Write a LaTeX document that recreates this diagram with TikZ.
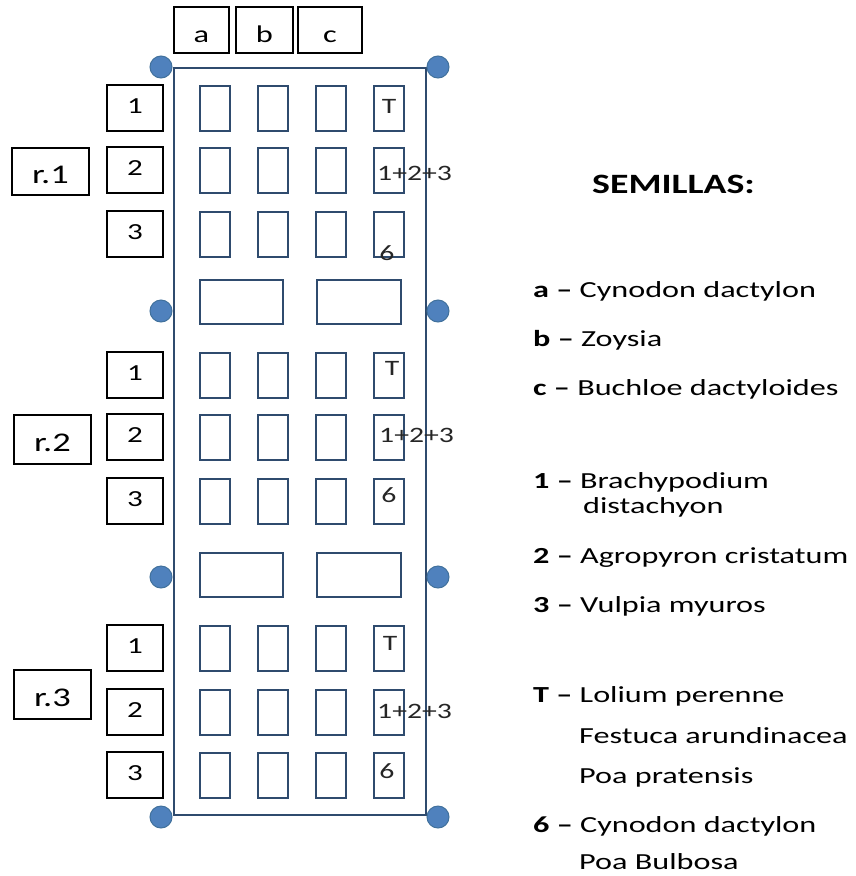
\documentclass[tikz,border=0pt]{standalone}
\usepackage{fontspec}
\setmainfont[FakeStretch=1.35]{Carlito}
\newfontfamily\legendfont[FakeStretch=1.4]{Carlito}
\definecolor{frame}{HTML}{2F4B6E}
\definecolor{pinfill}{HTML}{4F81BD}
\definecolor{pinline}{HTML}{41719C}

\begin{document}
\begin{tikzpicture}[x=1pt,y=-1pt,
  box/.style={draw=black,line width=1.8pt,inner sep=0pt,font=\fontsize{23}{27}\selectfont},
  cell/.style={draw=frame,line width=2pt},
  pin/.style={fill=pinfill,draw=pinline,line width=1pt},
  mark text/.style={anchor=base,inner sep=0pt,text=black!85,font=\fontsize{22}{26}\selectfont},
  legend/.style={anchor=base west,inner sep=0pt,font=\legendfont\fontsize{23}{27}\selectfont}]

\useasboundingbox (0,0) rectangle (855,876);

\draw[frame,line width=2pt] (174,68) rectangle (426,815);

\foreach \y in {67,311,577,817} {
  \filldraw[pin] (161,\y) circle[radius=11];
  \filldraw[pin] (438,\y) circle[radius=11];
}

\node[box,minimum width=55pt,minimum height=46pt,text height=24pt,text depth=0pt,font=\fontsize{24}{28}\selectfont] (a) at (201.5,30) {a};
\node[box,minimum width=57pt,minimum height=46pt,text height=24pt,text depth=0pt,font=\fontsize{24}{28}\selectfont] (b) at (264.5,30) {b};
\node[box,minimum width=64pt,minimum height=46pt,text height=24pt,text depth=0pt,font=\fontsize{24}{28}\selectfont] (c) at (330,30) {c};

\foreach \y [count=\i] in {108,170,234,375,437,501,648,712,775} {
  \pgfmathtruncatemacro\r{mod(\i-1,3)+1}
  \node[box,minimum width=56pt,minimum height=46pt,text height=10pt,text depth=0pt] (row\i) at (135,\y) {\r};
  \foreach \x in {215,273,331,389}
    \draw[cell] (\x-15,\y-22.5) rectangle (\x+15,\y+22.5);
}

\foreach \y in {280,553} {
  \draw[cell] (200,\y) rectangle (283,\y+44);
  \draw[cell] (317,\y) rectangle (401,\y+44);
}

\node[box,minimum width=77pt,minimum height=47pt,text height=23pt,text depth=0pt,font=\fontsize{27}{31}\selectfont] (r1) at (50.5,171.5) {r.1};
\node[box,minimum width=77pt,minimum height=49pt,text height=23pt,text depth=0pt,font=\fontsize{27}{31}\selectfont] (r2) at (52.5,439.5) {r.2};
\node[box,minimum width=77pt,minimum height=49pt,text height=23pt,text depth=0pt,font=\fontsize{27}{31}\selectfont] (r3) at (52.5,694.5) {r.3};

\node[mark text] (t1) at (389,113) {T};
\node[mark text,anchor=base west] (sum1) at (377,180) {1+2+3};
\node[mark text] (six1) at (387,260) {6};
\node[mark text] (t2) at (392,375) {T};
\node[mark text,anchor=base west] (sum2) at (379,442) {1+2+3};
\node[mark text] (six2) at (389,502) {6};
\node[mark text] (t3) at (390,650) {T};
\node[mark text,anchor=base west] (sum3) at (377,718) {1+2+3};
\node[mark text] (six3) at (387,778) {6};

\node[legend,font=\bfseries\fontsize{28}{32}\selectfont] (title) at (592,193) {SEMILLAS:};
\node[legend] (keya) at (533,297) {\textbf{a –} Cynodon dactylon};
\node[legend] (keyb) at (533,346) {\textbf{b –} Zoysia};
\node[legend] (keyc) at (533,395) {\textbf{c –} Buchloe dactyloides};
\node[legend] (key1) at (533,488) {\textbf{1 –} Brachypodium};
\node[legend] (key1b) at (583,513) {distachyon};
\node[legend] (key2) at (533,563) {\textbf{2 –} Agropyron cristatum};
\node[legend] (key3) at (533,612) {\textbf{3 –} Vulpia myuros};
\node[legend] (keyt) at (533,702) {\textbf{T –} Lolium perenne};
\node[legend] (keyt2) at (579,743) {Festuca arundinacea};
\node[legend] (keyt3) at (579,783) {Poa pratensis};
\node[legend] (key6) at (533,832) {\textbf{6 –} Cynodon dactylon};
\node[legend] (key62) at (579,869) {Poa Bulbosa};

\end{tikzpicture}
\end{document}
